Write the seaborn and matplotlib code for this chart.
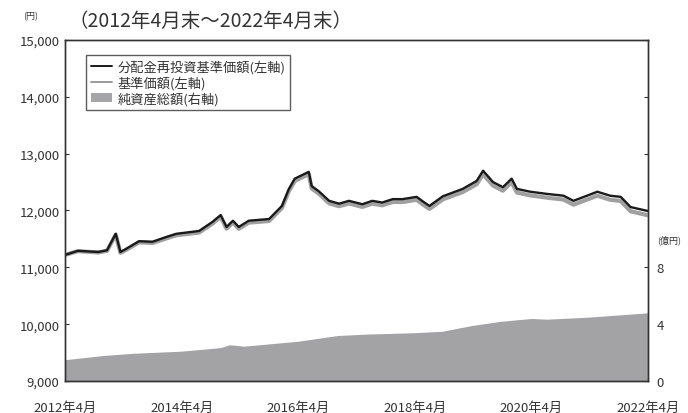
import matplotlib
matplotlib.use("Agg")
import matplotlib.pyplot as plt
import seaborn as sns
import pandas as pd
from matplotlib.lines import Line2D
from matplotlib.patches import Patch

# ---- data ----
nav_t = [2012.33, 2012.55, 2012.90, 2013.05, 2013.20, 2013.28, 2013.37, 2013.60, 2013.83, 2014.07,
         2014.24, 2014.63, 2014.86, 2015.00, 2015.10, 2015.21, 2015.31, 2015.48, 2015.83, 2016.05,
         2016.17, 2016.27, 2016.51, 2016.56, 2016.68, 2016.86, 2017.03, 2017.20, 2017.43, 2017.60,
         2017.77, 2017.95, 2018.12, 2018.36, 2018.48, 2018.58, 2018.81, 2019.15, 2019.39, 2019.50,
         2019.67, 2019.84, 2019.99, 2020.08, 2020.31, 2020.61, 2020.88, 2021.05, 2021.46, 2021.68,
         2021.86, 2022.03, 2022.33]
nav_v = [11218, 11290, 11270, 11300, 11590, 11270, 11320, 11460, 11450, 11535,
         11590, 11640, 11800, 11920, 11710, 11820, 11710, 11820, 11850, 12080,
         12380, 12560, 12680, 12430, 12340, 12170, 12120, 12170, 12110, 12170,
         12140, 12200, 12200, 12240, 12150, 12080, 12250, 12380, 12520, 12700,
         12500, 12410, 12560, 12380, 12330, 12290, 12260, 12170, 12330, 12260,
         12240, 12060, 11990]
base_offset = [0, -5, -8, -10, -15, -15, -18, -20, -22, -25,
               -25, -28, -30, -30, -30, -32, -32, -34, -35, -36,
               -38, -40, -40, -42, -42, -44, -45, -46, -47, -48,
               -49, -50, -51, -52, -52, -52, -54, -56, -58, -60,
               -60, -62, -62, -64, -65, -66, -68, -68, -70, -72,
               -72, -74, -75]
base_v = [v + o for v, o in zip(nav_v, base_offset)]

aum_t = [2012.33, 2013.00, 2013.50, 2014.33, 2015.00, 2015.15, 2015.40, 2016.33, 2017.00, 2017.50,
         2018.33, 2018.80, 2019.30, 2019.80, 2020.33, 2020.60, 2021.33, 2022.00, 2022.33]
aum_v = [1.5, 1.8, 1.95, 2.1, 2.35, 2.55, 2.45, 2.8, 3.2, 3.3,
         3.4, 3.5, 3.9, 4.2, 4.4, 4.35, 4.5, 4.7, 4.8]

xtick_pos = [2012.33, 2014.33, 2016.33, 2018.33, 2020.33, 2022.33]
xtick_lab = ["2012年4月", "2014年4月", "2016年4月", "2018年4月", "2020年4月", "2022年4月"]
left_ticks = [9000, 10000, 11000, 12000, 13000, 14000, 15000]
right_ticks = [0, 4, 8, 12, 16, 20, 24]
right_labels = ["0", "4", "8", "", "", "", ""]
legend_labels = ["分配金再投資基準価額(左軸)", "基準価額(左軸)", "純資産総額(右軸)"]

sns.set_theme(style="white")
plt.rcParams['font.family'] = ['Noto Sans CJK JP', 'DejaVu Sans']

fig = plt.figure(figsize=(6.88, 4.14), dpi=100)
ax = fig.add_axes([0.0945, 0.0773, 0.8475, 0.8237])
ax2 = ax.twinx()

ax2.fill_between(aum_t, aum_v, 0, color="#a3a3a5", linewidth=0)
ax2.set_ylim(0, 24)
ax2.set_yticks(right_ticks)
ax2.set_yticklabels(right_labels)

df_nav = pd.DataFrame({"t": nav_t, "v": nav_v})
df_base = pd.DataFrame({"t": nav_t, "v": base_v})
sns.lineplot(data=df_base, x="t", y="v", ax=ax, color="#a0a0a0", linewidth=3.0)
sns.lineplot(data=df_nav, x="t", y="v", ax=ax, color="#1a1a1a", linewidth=1.7)

ax.set_zorder(ax2.get_zorder() + 1)
ax.patch.set_visible(False)

ax.set_xlim(2012.33, 2022.33)
ax.set_ylim(9000, 15000)
ax.set_yticks(left_ticks)
ax.set_yticklabels([f"{v:,}" for v in left_ticks])
ax.set_xticks(xtick_pos)
ax.set_xticklabels(xtick_lab)
ax.set_xlabel("")
ax.set_ylabel("")

for a in (ax, ax2):
    for s in a.spines.values():
        s.set_color("#333333")
        s.set_linewidth(1.0)
    a.tick_params(direction="in", length=3, width=0.8, colors="#333333",
                  labelsize=9.5, labelcolor="#333333")
ax.tick_params(axis="x", pad=14)
ax.tick_params(axis="y", pad=4)
ax2.tick_params(axis="y", pad=6)

fig.text(0.045, 0.96, "(円)", fontsize=6.5, color="#333333", ha="center", va="center")
fig.text(0.955, 0.42, "(億円)", fontsize=6.5, color="#333333", ha="left", va="center")
fig.text(0.100, 0.948, "（2012年4月末～2022年4月末）", fontsize=14, color="#333333",
         ha="left", va="center")

handles = [Line2D([0], [0], color="#1a1a1a", lw=1.4),
           Line2D([0], [0], color="#9a9a9a", lw=1.4),
           Patch(facecolor="#a5a5a7", edgecolor="none")]
leg = ax.legend(handles, legend_labels, loc="upper left", bbox_to_anchor=(0.025, 0.975),
                fontsize=9.5, frameon=True, fancybox=False, borderpad=0.35,
                handlelength=1.6, handletextpad=0.4, labelspacing=0.15)
leg.get_frame().set_edgecolor("#333333")
leg.get_frame().set_linewidth(1.0)
for t in leg.get_texts():
    t.set_color("#333333")

fig.savefig("out.png", dpi=100)
